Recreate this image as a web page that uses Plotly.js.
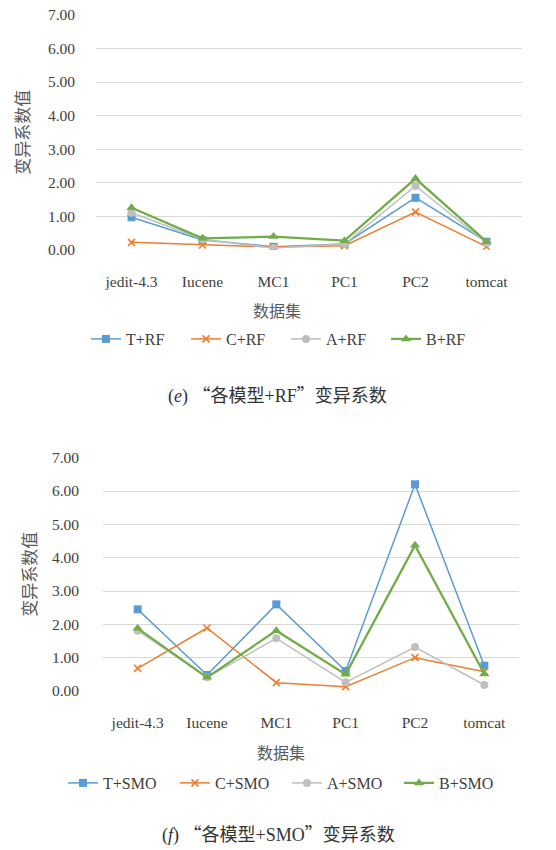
<!DOCTYPE html>
<html>
<head>
<meta charset="utf-8">
<script src="https://cdn.plot.ly/plotly-3.0.1.min.js"></script>
<style>html,body{margin:0;padding:0;background:#fff;}#chart{width:556px;height:850px;}</style>
</head>
<body>
<div id="chart"></div>
<script>
// ---- data ----
const categories = ['jedit-4.3', 'Iucene', 'MC1', 'PC1', 'PC2', 'tomcat'];
const rfNames = ['T+RF', 'C+RF', 'A+RF', 'B+RF'];
const smoNames = ['T+SMO', 'C+SMO', 'A+SMO', 'B+SMO'];
const T_RF = [0.97, 0.29, 0.09, 0.17, 1.55, 0.24];
const C_RF = [0.22, 0.14, 0.08, 0.12, 1.12, 0.09];
const A_RF = [1.10, 0.31, 0.05, 0.17, 1.90, 0.20];
const B_RF = [1.25, 0.34, 0.39, 0.27, 2.12, 0.24];
const T_SMO = [2.45, 0.48, 2.60, 0.60, 6.20, 0.76];
const C_SMO = [0.68, 1.89, 0.25, 0.13, 1.00, 0.58];
const A_SMO = [1.81, 0.41, 1.58, 0.26, 1.32, 0.18];
const B_SMO = [1.88, 0.41, 1.81, 0.50, 4.37, 0.51];
const yTickVals = [0, 1, 2, 3, 4, 5, 6, 7];
const yTickText = ['0.00', '1.00', '2.00', '3.00', '4.00', '5.00', '6.00', '7.00'];

// ---- styles ----
const colors = ['#5b9bd5', '#ed7d31', '#bfbfbf', '#70ad47'];
const symbols = ['square', 'x-thin-open', 'circle', 'triangle-up'];
const msizes = [8, 7, 8, 9];
const lwidths = [1.5, 1.5, 1.5, 2.25];
const serif = '"Liberation Serif", serif';
const capFont = '"Liberation Serif", "Noto Sans CJK SC", serif';
const cjk = '"Noto Sans CJK SC", sans-serif';
const q = (s) => '<span style="font-family:\'Noto Sans CJK SC\'">' + s + '</span>';

function mk(name, y, i, xa, ya, leg) {
  return {
    type: 'scatter', mode: 'lines+markers', name: name,
    x: categories, y: y, xaxis: xa, yaxis: ya, legend: leg,
    line: {color: colors[i], width: lwidths[i]},
    marker: {symbol: symbols[i], size: msizes[i], color: colors[i],
             line: {color: colors[i], width: i === 1 ? 1.6 : 0}}
  };
}

const rfData = [T_RF, C_RF, A_RF, B_RF];
const smoData = [T_SMO, C_SMO, A_SMO, B_SMO];
const traces = [];
rfData.forEach((d, i) => traces.push(mk(rfNames[i], d, i, 'x', 'y', 'legend')));
smoData.forEach((d, i) => traces.push(mk(smoNames[i], d, i, 'x2', 'y2', 'legend2')));

const W = 556, H = 850;
function px(x) { return x / W; }
function py(y) { return 1 - y / H; }

const xBase = {
  type: 'category', range: [-0.5, 5.5], showgrid: false, zeroline: false,
  showline: false, ticks: '', tickfont: {family: serif, size: 15.5, color: '#404040'},
  ticklabelstandoff: 21, fixedrange: true
};
const yBase = {
  range: [0, 7], tickvals: yTickVals, ticktext: yTickText, showgrid: true,
  gridcolor: '#d9d9d9', gridwidth: 1, zeroline: false, showline: false, ticks: '',
  tickfont: {family: serif, size: 15.5, color: '#404040'}, fixedrange: true
};

const layout = {
  width: W, height: H, margin: {l: 0, r: 0, t: 0, b: 0},
  paper_bgcolor: '#ffffff', plot_bgcolor: '#ffffff', showlegend: true,
  xaxis: Object.assign({}, xBase, {domain: [px(96), px(522)], anchor: 'y'}),
  yaxis: Object.assign({}, yBase, {domain: [py(249.7), py(15)], anchor: 'x', ticklabelstandoff: 20,
    title: {text: '变异系数值', font: {family: cjk, size: 17, color: '#595959'}, standoff: 13}}),
  xaxis2: Object.assign({}, xBase, {domain: [px(103), px(519)], anchor: 'y2', ticklabelstandoff: 20}),
  yaxis2: Object.assign({}, yBase, {domain: [py(691), py(457.7)], anchor: 'x2', ticklabelstandoff: 23,
    title: {text: '变异系数值', font: {family: cjk, size: 17, color: '#595959'}, standoff: 10}}),
  legend: {orientation: 'h', x: px(86), y: py(339), xanchor: 'left', yanchor: 'middle',
    font: {family: serif, size: 16, color: '#404040'}, bgcolor: 'rgba(0,0,0,0)', entrywidth: 55},
  legend2: {orientation: 'h', x: px(63), y: py(783), xanchor: 'left', yanchor: 'middle',
    font: {family: serif, size: 16, color: '#404040'}, bgcolor: 'rgba(0,0,0,0)', entrywidth: 67},
  annotations: [
    {text: '数据集', xref: 'paper', yref: 'paper', x: px(277), y: py(310), showarrow: false,
     xanchor: 'center', yanchor: 'middle', font: {family: cjk, size: 16, color: '#595959'}},
    {text: '数据集', xref: 'paper', yref: 'paper', x: px(281), y: py(752), showarrow: false,
     xanchor: 'center', yanchor: 'middle', font: {family: cjk, size: 16, color: '#595959'}},
    {text: '(<i>e</i>) ' + q('\u201c') + '各模型+RF' + q('\u201d') + '变异系数', xref: 'paper', yref: 'paper',
     x: px(277), y: py(394), showarrow: false, xanchor: 'center', yanchor: 'middle',
     font: {family: capFont, size: 18, color: '#333333'}},
    {text: '(<i>f</i>) ' + q('\u201c') + '各模型+SMO' + q('\u201d') + '变异系数', xref: 'paper', yref: 'paper',
     x: px(278), y: py(833), showarrow: false, xanchor: 'center', yanchor: 'middle',
     font: {family: capFont, size: 18, color: '#333333'}}
  ]
};

Plotly.newPlot('chart', traces, layout, {staticPlot: true, displayModeBar: false});
</script>
</body>
</html>
